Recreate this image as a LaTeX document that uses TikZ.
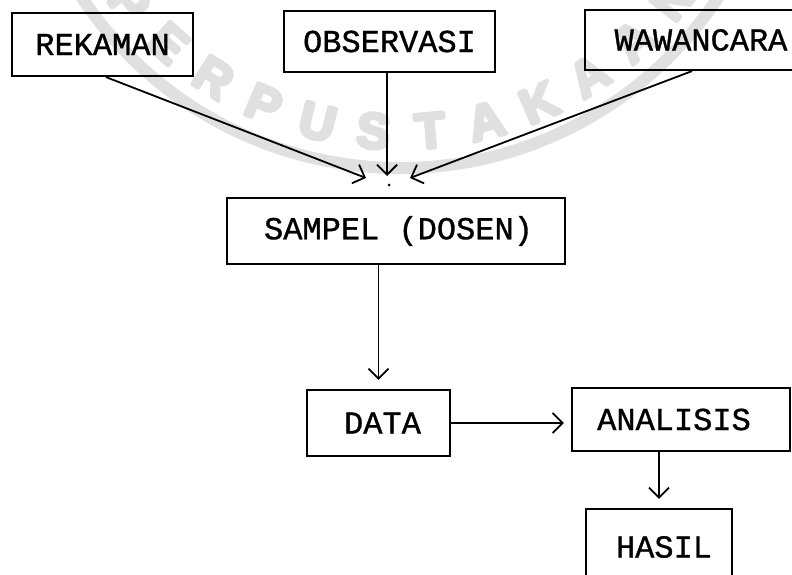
\documentclass[tikz,border=0pt]{standalone}
\usepackage{fontspec}
\newfontfamily\twfont{Liberation Mono}[FakeBold=1]
\newfontfamily\wmfont{Liberation Sans}
\usetikzlibrary{arrows.meta,calc}
\newcommand\wmstroke[1]{\special{pdf:literal direct 2 Tr 3.6 w 1 j}#1\special{pdf:literal direct 0 Tr}}
\begin{document}
\begin{tikzpicture}[x=1pt,y=1pt,
  box/.style={draw=black, line width=2.2pt, minimum height=63pt, inner sep=0pt,
    font=\twfont\fontsize{32}{36}\selectfont},
  arr/.style={draw=black, line width=1.8pt,
    -{Straight Barb[length=10pt,width=20pt,line width=1.8pt]}},
  wmletter/.style={text=black!12, font=\wmfont\bfseries\fontsize{50}{50}\selectfont, inner sep=0pt},
  wmring/.style={draw=black!12, line width=12pt}]
\useasboundingbox (0,0) rectangle (792,-575);
\clip (0,0) rectangle (792,-575);
\fill[white] (0,0) rectangle (792,-575);
% watermark
\coordinate (wmc) at (400,214);
\draw[wmring] ($(wmc)+(-150:382)$) arc[start angle=-150, end angle=-30, radius=382];
\foreach \l/\a [count=\i] in {P/-141.4, E/-132, R/-122.6, P/-113.2, U/-103.8, S/-94.4, T/-85, A/-75.6, K/-66.3, A/-56.9, A/-47.5, N/-38.1}
  \node[wmletter, rotate=\a+90] (wm\i) at ($(wmc)+(\a:346)$) {\wmstroke{\l}};
% boxes
\node[box, minimum width=181pt] (rek) at (102.5,-44.5) {REKAMAN};
\node[box, minimum width=211pt, minimum height=61pt] (obs) at (389.5,-41.5) {OBSERVASI};
\node[box, minimum width=232pt, minimum height=60pt] (waw) at (701,-40) {WAWANCARA};
\node[box, minimum width=338pt, minimum height=66pt] (samp) at (396,-231) {SAMPEL (DOSEN)\hspace*{-5pt}};
\node[box, minimum width=143pt, minimum height=66pt] (data) at (378.5,-423) {DATA\hspace*{-8pt}};
\node[box, minimum width=218pt, minimum height=63pt] (ana) at (681,-419.5) {\hspace*{-14pt}ANALISIS};
\node[box, minimum width=146pt, minimum height=76pt] (has) at (659,-547) {HASIL\hspace*{-10pt}};
% connectors
\coordinate (c1) at (366,-178);
\coordinate (c2) at (387,-176);
\coordinate (c3) at (410,-178);
\draw[arr] ([xshift=3.5pt]rek.south) -- (c1);
\draw[arr] ([xshift=-2.5pt]obs.south) -- (c2);
\draw[arr] ([xshift=-9pt]waw.south) -- (c3);
\node[circle, fill=black, inner sep=0pt, minimum size=3pt] (dot) at (389,-185) {};
\draw[arr, shorten >=9pt] (samp.south -| data.north) -- (data.north);
\draw[arr, shorten >=7pt] (data.east) -- (data.east -| ana.west);
\draw[arr, shorten >=9pt] (ana.south -| has.north) -- (has.north);
\end{tikzpicture}
\end{document}
